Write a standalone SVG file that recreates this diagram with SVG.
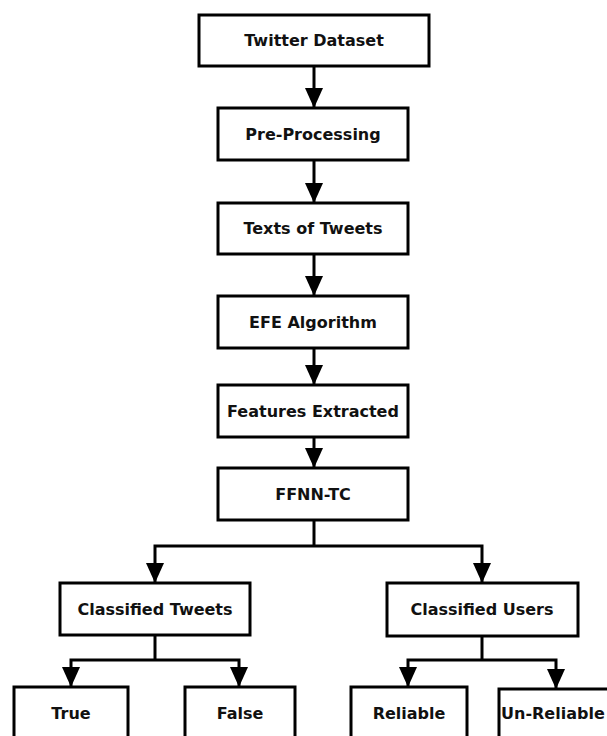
<svg xmlns="http://www.w3.org/2000/svg" width="607" height="736" viewBox="0 0 607 736">
<style>
.box{fill:#fff;stroke:#000;stroke-width:3}
.lbl{font-family:"DejaVu Sans",Verdana,sans-serif;font-weight:bold;font-size:16px;fill:#111;text-anchor:middle;dominant-baseline:central}
.c{fill:none;stroke:#000;stroke-width:3}
</style>
<defs>
<marker id="ah" markerUnits="userSpaceOnUse" markerWidth="20" markerHeight="18" refX="20" refY="9" orient="auto">
<path d="M0,0 L20,9 L0,18 z" fill="#000"/>
</marker>
</defs>
<rect width="607" height="736" fill="#fff"/>
<g id="connectors">
<line class="c" x1="314" y1="66" x2="314" y2="108" marker-end="url(#ah)"/>
<line class="c" x1="314" y1="160" x2="314" y2="203" marker-end="url(#ah)"/>
<line class="c" x1="314" y1="254" x2="314" y2="296" marker-end="url(#ah)"/>
<line class="c" x1="314" y1="348" x2="314" y2="385" marker-end="url(#ah)"/>
<line class="c" x1="314" y1="437" x2="314" y2="468" marker-end="url(#ah)"/>
<line class="c" x1="314" y1="520" x2="314" y2="546"/>
<polyline class="c" points="314,546 155,546 155,583" marker-end="url(#ah)"/>
<polyline class="c" points="314,546 482,546 482,583" marker-end="url(#ah)"/>
<line class="c" x1="155" y1="635" x2="155" y2="660"/>
<polyline class="c" points="155,660 71,660 71,687" marker-end="url(#ah)"/>
<polyline class="c" points="155,660 239,660 239,687" marker-end="url(#ah)"/>
<line class="c" x1="482" y1="636" x2="482" y2="660"/>
<polyline class="c" points="482,660 408,660 408,687" marker-end="url(#ah)"/>
<polyline class="c" points="482,660 556,660 556,689" marker-end="url(#ah)"/>
</g>
<g id="twitter-dataset"><rect class="box" x="199" y="15" width="230" height="51"/><text class="lbl" x="314" y="40.5">Twitter Dataset</text></g>
<g id="pre-processing"><rect class="box" x="218" y="108" width="190" height="52"/><text class="lbl" x="313" y="134">Pre-Processing</text></g>
<g id="texts-of-tweets"><rect class="box" x="218" y="203" width="190" height="51"/><text class="lbl" x="313" y="228.5">Texts of Tweets</text></g>
<g id="efe-algorithm"><rect class="box" x="218" y="296" width="190" height="52"/><text class="lbl" x="313" y="322">EFE Algorithm</text></g>
<g id="features-extracted"><rect class="box" x="218" y="385" width="190" height="52"/><text class="lbl" x="313" y="411">Features Extracted</text></g>
<g id="ffnn-tc"><rect class="box" x="218" y="468" width="190" height="52"/><text class="lbl" x="313" y="494">FFNN-TC</text></g>
<g id="classified-tweets"><rect class="box" x="60" y="583" width="190" height="52"/><text class="lbl" x="155" y="609">Classified Tweets</text></g>
<g id="classified-users"><rect class="box" x="387" y="583" width="191" height="53"/><text class="lbl" x="482" y="609.5">Classified Users</text></g>
<g id="true"><rect class="box" x="14" y="687" width="114" height="60"/><text class="lbl" x="71" y="713">True</text></g>
<g id="false"><rect class="box" x="185" y="687" width="110" height="60"/><text class="lbl" x="240" y="713">False</text></g>
<g id="reliable"><rect class="box" x="351" y="687" width="116" height="60"/><text class="lbl" x="409" y="713">Reliable</text></g>
<g id="un-reliable"><rect class="box" x="499" y="689" width="130" height="60"/><text class="lbl" x="501" y="713" style="text-anchor:start">Un-Reliable</text></g>
</svg>
